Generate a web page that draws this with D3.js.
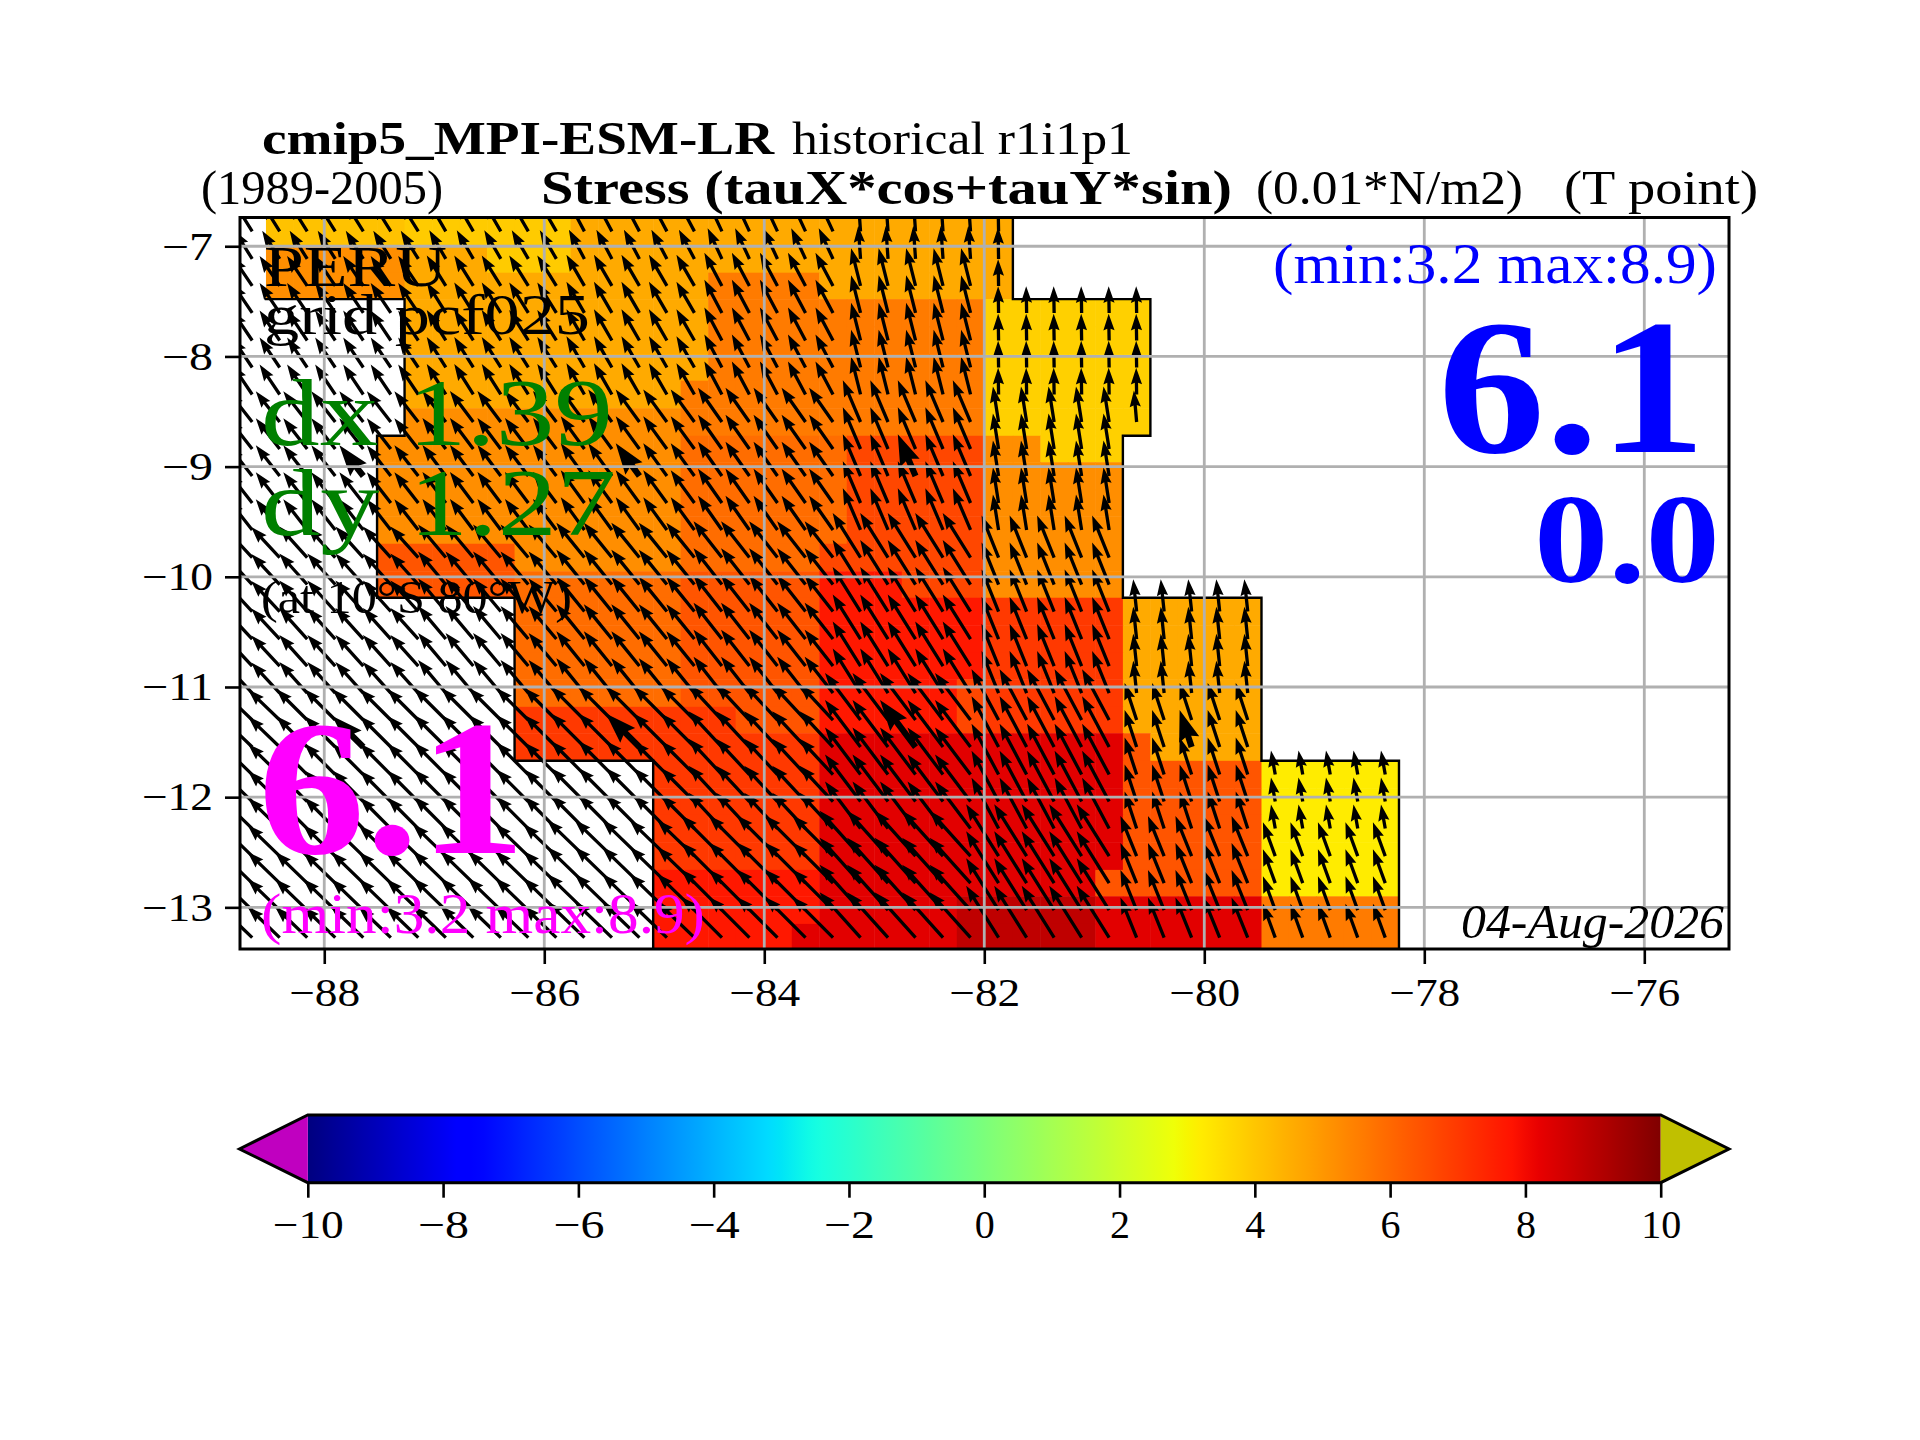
<!DOCTYPE html>
<html>
<head>
<meta charset="utf-8">
<script src="https://cdn.jsdelivr.net/npm/d3@7"></script>
<style>
body { margin: 0; background: #fff; }
text { font-family: "Liberation Serif", serif; }
</style>
</head>
<body>
<div id="chart"></div>
<script>
// cell edges of the stress grid
const lonEdges = [-88.78, -88.53, -88.28, -88.03, -87.77, -87.52, -87.27, -87.02, -86.77, -86.52, -86.27,
    -86.02, -85.76, -85.51, -85.26, -85.01, -84.76, -84.51, -84.26, -84.01, -83.75, -83.50, -83.25, -83.00,
    -82.75, -82.50, -82.25, -82.00, -81.74, -81.49, -81.24, -80.99, -80.74, -80.49, -80.24, -79.99, -79.73,
    -79.48, -79.23, -78.98, -78.73, -78.48, -78.23];
const latEdges = [-6.74, -6.99, -7.24, -7.48, -7.73, -7.98, -8.22, -8.47, -8.72, -8.96, -9.21, -9.45, -9.70,
    -9.95, -10.19, -10.44, -10.69, -10.93, -11.18, -11.42, -11.67, -11.92, -12.16, -12.41, -12.66, -12.90,
    -13.15, -13.40];

// stress values, one letter per cell, "." is no data
const stressCodes = { a: 3.2, b: 3.8, c: 3.9, C: 4.1, d: 4.6, e: 5.2, f: 5.6, F: 5.9, g: 6.4, G: 6.7, h: 7.0, i: 7.7, j: 8.3, k: 8.9 };
const stressRows = [
    ".CCCCCccccccdddddddddddddddd",
    ".eeeeedddcccdddddddddddddddd",
    ".eeeeedddddddddddffffddddddd",
    "......dddddddddddffffffffffbbbbbb",
    "......dddddddddddffffffffffbbbbbb",
    "......dddddddddddffffffffffbbbbbb",
    "......ddddddddddfffffffffffbbbbbb",
    "......eeeeeeeeeefffffffffffbbbbbb",
    ".....eeeeeeeeeeeFFFFFFGGGGGeebbb",
    ".....eeeeeeeeeeeFFFFFFGGGGGeeeee",
    ".....eeeeeeeeeeeFFFFFFGGGGGeeeee",
    ".....eeeeeeeeeeeFFFFFFGGGGGeeeee",
    ".....gggggeeeeeeFFFFFGGGGGGeeeee",
    ".....gggggFFFFFFgggggiiiGGGeeeee",
    "..........FFFFFFgggggiiiiiihhhhhddddd",
    "..........FFFFFFgggggiiiiiihhhhhddddd",
    "..........FFFFFFgggggiiiiiihhhhhddddd",
    "..........FFFFFFgggggiiiiiGhhhhhddddd",
    "..........hhhhhhhhgggiiiiiGhhhhhddddd",
    "..........hhhhhhhhhhhjjjjjjjjjjjgdddd",
    "...............hhhhhhjjjjjjjjjjjgggggaaaaa",
    "...............hhhhhhjjjjjjjjjjjgggggaaaaa",
    "...............hhhhhhjjjjjjjjjjjgggggaaaaa",
    "...............hhhhhhjjjjjjjjjjjgggggaaaaa",
    "...............iiiiiijjjjjjjjjjggggggaaaaa",
    "...............iiiiiijjjjjkkkkkjjjjjjfffff",
    "...............iiiiijjjjjjkkkkkjjjjjjfffff"
];

// wind is on a coarser grid: first cell column / row of each block
const windColStarts = [0, 2, 7, 12, 17, 22, 27, 32, 37];
const windRowStarts = [0, 2, 7, 12, 18, 23];
const windAngle = [
    [122, 122, 120, 118, 115, 94, 91, 91, 91],
    [124, 124, 122, 120, 118, 104, 91, 91, 91],
    [128, 128, 127, 126, 125, 113, 99, 95, 95],
    [133, 132, 130, 129, 128, 122, 112, 96, 100],
    [136, 135, 135, 135, 133, 127, 118, 108, 100],
    [136, 136, 136, 136, 135, 132, 122, 112, 110]
];
const windSpeed = [
    [4.6, 4.6, 4.6, 4.6, 4.7, 4.6, 4.4, 3.7, 3.7],
    [5.0, 5.0, 5.0, 5.0, 5.2, 5.4, 3.7, 3.7, 3.7],
    [5.4, 5.4, 5.4, 5.6, 5.8, 6.3, 5.0, 4.4, 3.4],
    [5.8, 5.8, 6.0, 6.2, 6.4, 7.3, 6.3, 4.5, 3.4],
    [6.1, 6.1, 6.3, 6.6, 6.8, 8.2, 8.0, 5.4, 3.4],
    [6.2, 6.2, 6.4, 7.2, 8.0, 8.5, 8.5, 6.0, 5.0]
];
// the few arrows drawn thicker [column, row]
const thickArrows = [[4, 9], [14, 9], [24, 9], [4, 19], [14, 19], [24, 19], [34, 19]];

const lonTicks = [-88, -86, -84, -82, -80, -78, -76];
const latTicks = [-7, -8, -9, -10, -11, -12, -13];
const colorbarTicks = [-10, -8, -6, -4, -2, 0, 2, 4, 6, 8, 10];

const width = 1920, height = 1440;
const svg = d3.select("#chart").append("svg")
    .attr("width", width)
    .attr("height", height);

const x = d3.scaleLinear().domain([-88.766, -75.23]).range([240, 1729]);
const y = d3.scaleLinear().domain([-6.739, -13.378]).range([217.5, 949]);
const arrowLength = d3.scaleLinear().domain([0, 10]).range([0, 72]);

// jet colormap
const jetR = d3.scaleLinear().domain([0, 0.35, 0.66, 0.89, 1]).range([0, 0, 1, 1, 0.5]).clamp(true);
const jetG = d3.scaleLinear().domain([0, 0.125, 0.375, 0.64, 0.91, 1]).range([0, 0, 1, 1, 0, 0]).clamp(true);
const jetB = d3.scaleLinear().domain([0, 0.11, 0.34, 0.65, 1]).range([0.5, 1, 1, 0, 0]).clamp(true);
const unit = d3.scaleLinear().domain([-10, 10]).range([0, 1]);
function jet(v) {
    const t = unit(v);
    return d3.rgb(jetR(t) * 255, jetG(t) * 255, jetB(t) * 255).formatHex();
}

const defs = svg.append("defs");
defs.append("clipPath").attr("id", "axes-clip").append("rect")
    .attr("x", x.range()[0])
    .attr("y", y.range()[0])
    .attr("width", x.range()[1] - x.range()[0])
    .attr("height", y.range()[1] - y.range()[0]);

const map = svg.append("g").attr("clip-path", "url(#axes-clip)");

// flat list of cells
const cells = [];
stressRows.forEach(function(row, i) {
    row.split("").forEach(function(code, j) {
        if (code !== ".") cells.push({ i: i, j: j, value: stressCodes[code] });
    });
});

map.append("g").selectAll("rect")
    .data(cells)
    .enter()
    .append("rect")
    .attr("x", d => x(lonEdges[d.j]))
    .attr("y", d => y(latEdges[d.i]))
    .attr("width", d => x(lonEdges[d.j + 1]) - x(lonEdges[d.j]) + 0.5)
    .attr("height", d => y(latEdges[d.i + 1]) - y(latEdges[d.i]) + 0.5)
    .attr("fill", d => jet(d.value));

// coast line around the cells that have data
function hasData(i, j) {
    return i >= 0 && i < stressRows.length && j >= 0 && stressRows[i][j] !== undefined && stressRows[i][j] !== ".";
}
const coast = [];
cells.forEach(function(c) {
    const x0 = x(lonEdges[c.j]), x1 = x(lonEdges[c.j + 1]);
    const y0 = y(latEdges[c.i]), y1 = y(latEdges[c.i + 1]);
    if (!hasData(c.i - 1, c.j) && c.i > 0) coast.push(`M${x0},${y0}L${x1},${y0}`);
    if (!hasData(c.i + 1, c.j)) coast.push(`M${x0},${y1}L${x1},${y1}`);
    if (!hasData(c.i, c.j - 1) && c.j > 1) coast.push(`M${x0},${y0}L${x0},${y1}`);
    if (!hasData(c.i, c.j + 1)) coast.push(`M${x1},${y0}L${x1},${y1}`);
});
map.append("path")
    .attr("d", coast.join(""))
    .attr("fill", "none")
    .attr("stroke", "#000")
    .attr("stroke-width", 2.4)
    .attr("stroke-linecap", "square");

// arrows: tail sits on the cell centre, and they also cross the empty ocean side
const arrows = [];
stressRows.forEach(function(row, i) {
    d3.range(row.length).forEach(function(j) {
        const rowBlock = d3.bisectRight(windRowStarts, i) - 1;
        const colBlock = d3.bisectRight(windColStarts, j) - 1;
        const thick = thickArrows.some(t => t[0] === j && t[1] === i);
        arrows.push({
            i: i, j: j,
            angle: windAngle[rowBlock][colBlock],
            speed: windSpeed[rowBlock][colBlock],
            w: thick ? 6.2 : 3.3
        });
    });
});

function arrowPath(len, w) {
    const headLen = 5 * w, headAxis = 4.5 * w, halfHead = 1.7 * w, half = w / 2;
    return `M0,${-half}L${len - headAxis},${-half}L${len - headLen},${-halfHead}L${len},0` +
        `L${len - headLen},${halfHead}L${len - headAxis},${half}L0,${half}Z`;
}

map.append("g").selectAll("path")
    .data(arrows)
    .enter()
    .append("path")
    .attr("d", d => arrowPath(arrowLength(d.speed), d.w))
    .attr("transform", d => {
        const cx = (x(lonEdges[d.j]) + x(lonEdges[d.j + 1])) / 2;
        const cy = (y(latEdges[d.i]) + y(latEdges[d.i + 1])) / 2;
        return `translate(${cx},${cy}) rotate(${-d.angle})`;
    })
    .attr("fill", "#000");

// grid goes over the arrows
map.append("g").selectAll("line")
    .data(lonTicks)
    .enter()
    .append("line")
    .attr("x1", d => x(d)).attr("x2", d => x(d))
    .attr("y1", y.range()[0]).attr("y2", y.range()[1])
    .attr("stroke", "#b0b0b0").attr("stroke-width", 2.8);
map.append("g").selectAll("line")
    .data(latTicks)
    .enter()
    .append("line")
    .attr("x1", x.range()[0]).attr("x2", x.range()[1])
    .attr("y1", d => y(d)).attr("y2", d => y(d))
    .attr("stroke", "#b0b0b0").attr("stroke-width", 2.8);

svg.append("rect")
    .attr("x", x.range()[0])
    .attr("y", y.range()[0])
    .attr("width", x.range()[1] - x.range()[0])
    .attr("height", y.range()[1] - y.range()[0])
    .attr("fill", "none")
    .attr("stroke", "#000")
    .attr("stroke-width", 3);

const minus = d => String(d).replace("-", "\u2212");

function styleAxis(g) {
    g.select(".domain").remove();
    g.selectAll(".tick line").attr("stroke", "#000").attr("stroke-width", 2.6);
    g.selectAll(".tick text")
        .attr("font-size", 40)
        .attr("fill", "#000")
        .style("font-family", '"Liberation Serif", serif')
        // the minus sign of the reference is wider than this font's
        .attr("textLength", d => (d < 0 ? 31 : 0) + 20 * String(Math.abs(d)).length)
        .attr("lengthAdjust", "spacingAndGlyphs");
}

svg.append("g")
    .attr("transform", `translate(0,${y.range()[1]})`)
    .call(d3.axisBottom(x).tickValues(lonTicks).tickSize(15).tickPadding(14).tickFormat(minus))
    .call(styleAxis);

svg.append("g")
    .attr("transform", `translate(${x.range()[0]},0)`)
    .call(d3.axisLeft(y).tickValues(latTicks).tickSize(15).tickPadding(12).tickFormat(minus))
    .call(styleAxis);

// colorbar
const cbar = d3.scaleLinear().domain([-10, 10]).range([307.8, 1660.7]);
const cbarTop = 1115, cbarBottom = 1182.7, cbarMid = 1149;

const gradient = defs.append("linearGradient").attr("id", "jet-gradient")
    .attr("x1", "0%").attr("x2", "100%").attr("y1", "0%").attr("y2", "0%");
gradient.selectAll("stop")
    .data(d3.range(0, 101))
    .enter()
    .append("stop")
    .attr("offset", d => d + "%")
    .attr("stop-color", d => jet(unit.invert(d / 100)));

svg.append("rect")
    .attr("x", cbar(-10))
    .attr("y", cbarTop)
    .attr("width", cbar(10) - cbar(-10))
    .attr("height", cbarBottom - cbarTop)
    .attr("fill", "url(#jet-gradient)");

svg.append("path")
    .attr("d", `M${cbar(-10)},${cbarTop}L239.5,${cbarMid}L${cbar(-10)},${cbarBottom}Z`)
    .attr("fill", "#c000c0");
svg.append("path")
    .attr("d", `M${cbar(10)},${cbarTop}L1729,${cbarMid}L${cbar(10)},${cbarBottom}Z`)
    .attr("fill", "#c0c000");
svg.append("path")
    .attr("d", `M${cbar(-10)},${cbarTop}L${cbar(10)},${cbarTop}L1729,${cbarMid}L${cbar(10)},${cbarBottom}L${cbar(-10)},${cbarBottom}L239.5,${cbarMid}Z`)
    .attr("fill", "none")
    .attr("stroke", "#000")
    .attr("stroke-width", 3);

svg.append("g")
    .attr("transform", `translate(0,${cbarBottom})`)
    .call(d3.axisBottom(cbar).tickValues(colorbarTicks).tickSize(15).tickPadding(12).tickFormat(minus))
    .call(styleAxis);

// all annotations: text, left, baseline, size, width on the page
function label(text, left, base, size, w, color, weight, style) {
    svg.append("text")
        .attr("x", left)
        .attr("y", base)
        .attr("font-size", size)
        .attr("textLength", w)
        .attr("lengthAdjust", "spacingAndGlyphs")
        .attr("fill", color || "#000")
        .attr("font-weight", weight || "normal")
        .attr("font-style", style || "normal")
        .text(text);
}

label("cmip5_MPI-ESM-LR", 262, 154, 46, 512, "#000", "bold");
label("historical r1i1p1", 792, 154, 46, 341);
label("(1989-2005)", 201, 204, 48, 242);
label("Stress (tauX*cos+tauY*sin)", 541, 204, 48, 691, "#000", "bold");
label("(0.01*N/m2)", 1256, 204, 48, 267);
label("(T point)", 1564, 204, 48, 194);

label("PERU", 264, 286, 58, 183);
label("grid pcf025", 264, 334, 58, 326);
label("dx 1.39", 261, 445, 96, 352, "#008000");
label("dy 1.27", 261, 535, 96, 355, "#008000");
label("(at 10\u00b0S 80\u00b0W)", 261, 613, 46, 311);
label("6.1", 258, 853, 192, 268, "#ff00ff", "bold");
label("(min:3.2 max:8.9)", 261, 933, 58, 444, "#ff00ff");

label("(min:3.2 max:8.9)", 1273, 283, 58, 444, "#0000ff");
label("6.1", 1438, 452, 192, 268, "#0000ff", "bold");
label("0.0", 1534, 582, 126, 186, "#0000ff", "bold");
label("04-Aug-2026", 1461, 938, 48, 263, "#000", "normal", "italic");
</script>
</body>
</html>
